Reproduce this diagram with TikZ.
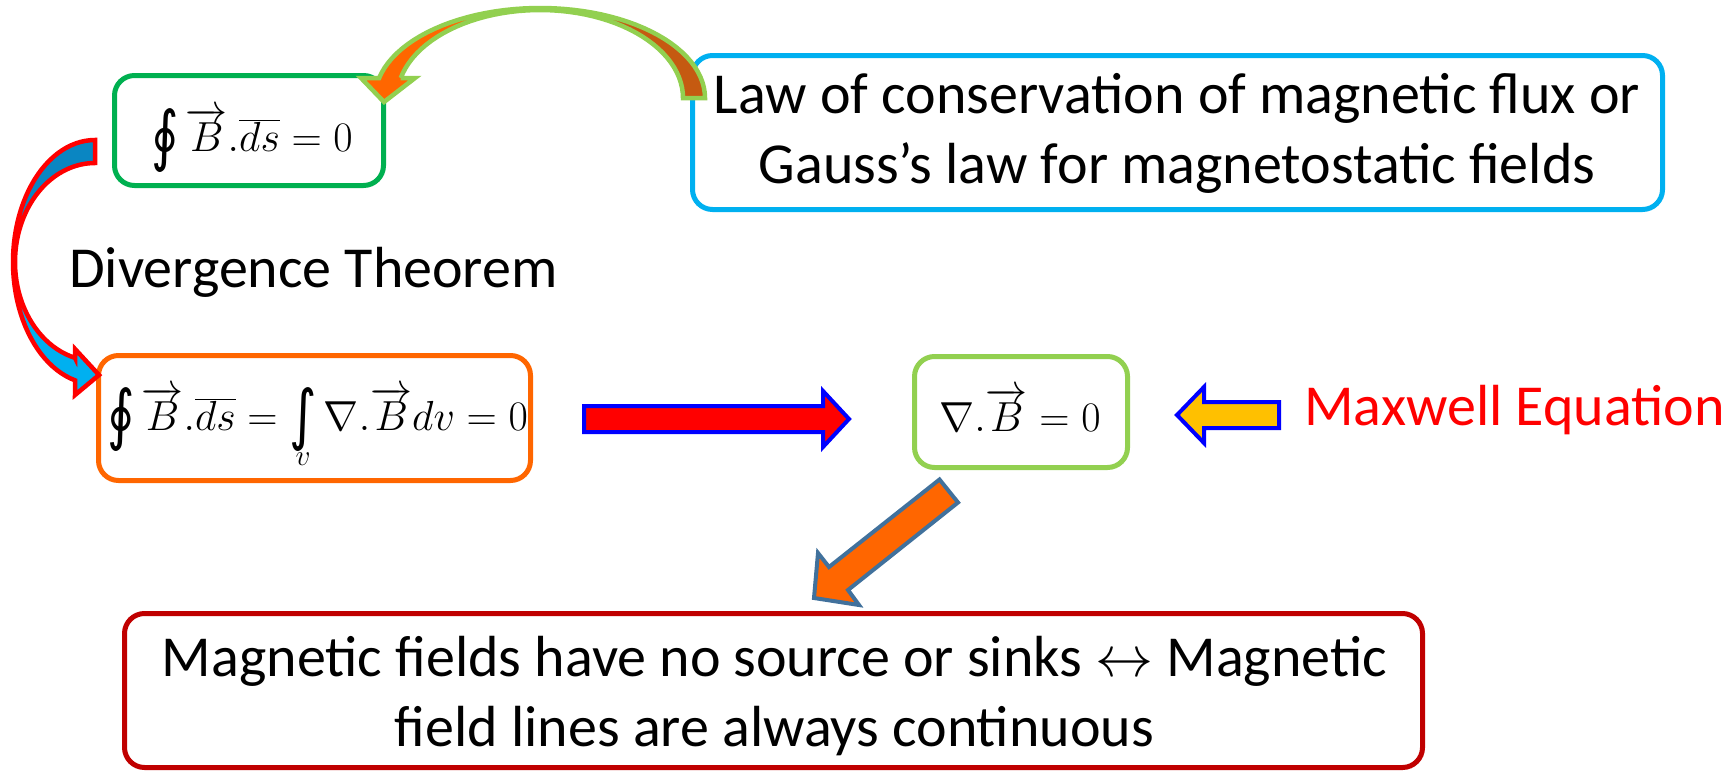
\documentclass[tikz,border=0pt]{standalone}
\usepackage{fix-cm}
\usepackage{graphicx}
\usepackage[no-math]{fontspec}
\setmainfont{Carlito}
\newfontfamily\intfont{DejaVu Sans}
\definecolor{cGreen}{HTML}{00B050}
\definecolor{cSky}{HTML}{00B0F0}
\definecolor{cOrange}{HTML}{FF6600}
\definecolor{cLime}{HTML}{92D050}
\definecolor{cDarkRed}{HTML}{C00000}
\definecolor{cBlueLine}{HTML}{0000FF}
\definecolor{cYellow}{HTML}{FFC000}
\definecolor{cSteel}{HTML}{41719C}
\definecolor{cBurnt}{HTML}{C55A11}
\definecolor{cDeepSky}{HTML}{0A86C2}
\newcommand{\Boint}{\mathop{\vcenter{\hbox{\scalebox{0.8}[1]{\intfont\fontsize{66}{66}\selectfont ∮}}}}\nolimits}
\newcommand{\Bint}{\mathop{\vcenter{\hbox{\scalebox{0.8}[1]{\intfont\fontsize{66}{66}\selectfont ∫}}}}}
\begin{document}
\begin{tikzpicture}[x=1pt,y=-1pt,
  box/.style={rounded corners=20pt, line width=5pt, inner sep=0pt},
  txt/.style={font=\fontsize{58}{70}\selectfont, inner sep=0pt, align=center},
  eq/.style={font=\fontsize{42}{50}\selectfont, inner sep=0pt, anchor=base},
  blockarrow/.style={line width=4pt, line join=miter},
  curvearrow/.style={line width=4.5pt, line join=miter}]

\useasboundingbox (0,0) rectangle (1728,771);

% boxes
\node[box, draw=cGreen, minimum width=269pt, minimum height=110pt] (b1) at (249,130.5) {};
\node[eq] (e1) at (252,151) {$\Boint\overrightarrow{B}.\overline{ds}=0$};

\node[box, draw=cSky, minimum width=970pt, minimum height=154pt] (law) at (1177.5,132.5) {};
\node[txt] (lawtext) at (1177,133.5) {Law of conservation of magnetic flux or\\Gauss’s law for magnetostatic fields};

\node[txt, anchor=base west] (div) at (69,287) {Divergence Theorem};

\node[box, draw=cOrange, minimum width=432pt, minimum height=125pt] (b2) at (314.5,418) {};
\node[eq] (e2) at (317.5,430) {$\Boint\overrightarrow{B}.\overline{ds}=\Bint\limits_{v}\nabla.\overrightarrow{B}dv=0$};

\node[box, draw=cLime, minimum width=213pt, minimum height=111pt] (b3) at (1021,412) {};
\node[eq] (e3) at (1020,431) {$\nabla.\overrightarrow{B}=0$};

\node[txt, anchor=base west, text=red] (maxw) at (1304,425) {Maxwell Equation};

\node[box, draw=cDarkRed, minimum width=1298pt, minimum height=154pt] (b4) at (773.5,690.5) {};
\node[txt] (b4text) at (774.5,696) {Magnetic fields have no source or sinks $\leftrightarrow$ Magnetic\\field lines are always continuous};

% straight block arrows
\draw[blockarrow, draw=cBlueLine, fill=red]
  (584,406) -- (823,406) -- (823,391) -- (849,419) -- (823,447) -- (823,432) -- (584,432) -- cycle;
\draw[blockarrow, draw=cBlueLine, fill=cYellow]
  (1279,402) -- (1204,402) -- (1204,387) -- (1177,415) -- (1204,443) -- (1204,428) -- (1279,428) -- cycle;
\draw[blockarrow, draw=cSteel, fill=cOrange]
  (939.5,479.5) -- (829,567) -- (818,553) -- (814,598) -- (859,605) -- (848,590) -- (958,502.5) -- cycle;

% top curved arrow (from blue box to first box)
\fill[cOrange] (705,98)
  -- plot[domain=0:167.16, samples=50] ({540+165*cos(\x)},{98-90*sin(\x)})
  -- (361,78) -- (384,102) -- (415,78) -- (400.7,78)
  -- plot[domain=166.86:0, samples=50] ({540+143*cos(\x)},{98-88*sin(\x)})
  -- cycle;
\fill[cBurnt] (705,98)
  -- plot[domain=0:90, samples=30] ({540+165*cos(\x)},{98-90*sin(\x)})
  -- plot[domain=90:0, samples=30] ({540+143*cos(\x)},{98-88*sin(\x)})
  -- cycle;
\draw[curvearrow, draw=cLime] (705,98)
  -- plot[domain=0:167.16, samples=50] ({540+165*cos(\x)},{98-90*sin(\x)})
  -- (361,78) -- (384,102) -- (415,78) -- (400.7,78)
  -- plot[domain=166.86:0, samples=50] ({540+143*cos(\x)},{98-88*sin(\x)})
  -- cycle;

% left curved arrow (from first box to second box)
\fill[cSky] (95,140)
  -- plot[domain=0:165.9, samples=50] ({95-82*sin(\x)},{262-122*cos(\x)})
  -- (75,395) -- (99,375) -- (75,349) -- (75,357.9)
  -- plot[domain=165.5:0, samples=50] ({95-80*sin(\x)},{262-99*cos(\x)})
  -- cycle;
\fill[cDeepSky] (95,140)
  -- plot[domain=0:90, samples=30] ({95-82*sin(\x)},{262-122*cos(\x)})
  -- plot[domain=90:0, samples=30] ({95-80*sin(\x)},{262-99*cos(\x)})
  -- cycle;
\draw[curvearrow, draw=red] (95,140)
  -- plot[domain=0:165.9, samples=50] ({95-82*sin(\x)},{262-122*cos(\x)})
  -- (75,395) -- (99,375) -- (75,349) -- (75,357.9)
  -- plot[domain=165.5:0, samples=50] ({95-80*sin(\x)},{262-99*cos(\x)})
  -- cycle;
\end{tikzpicture}
\end{document}
